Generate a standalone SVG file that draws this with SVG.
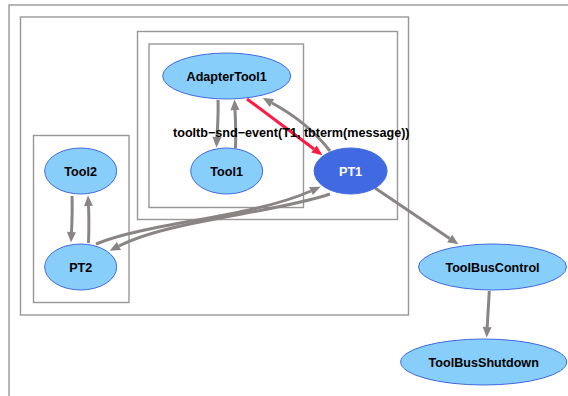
<svg xmlns="http://www.w3.org/2000/svg" width="568" height="396" viewBox="0 0 568 396">
<style>
.cl{fill:none;stroke:#9a9696;stroke-width:1.4}
.n{fill:#87cefa;stroke:#4169e1;stroke-width:1}
.t{font-family:"Liberation Sans",Arial,sans-serif;font-weight:bold;font-size:12.6px;text-anchor:middle;fill:#000}
.e{fill:none;stroke:#8a8585;stroke-width:3}
.r{fill:none;stroke:#ff1a44;stroke-width:3}
</style>
<defs>
<marker id="ag" markerUnits="userSpaceOnUse" markerWidth="12" markerHeight="10" refX="0" refY="4.5" orient="auto" viewBox="0 0 12 10" overflow="visible">
<path d="M0,0 L10.5,4.5 L0,9 z" fill="#8a8585"/>
</marker>
<marker id="ar" markerUnits="userSpaceOnUse" markerWidth="12" markerHeight="10" refX="0" refY="4.5" orient="auto" viewBox="0 0 12 10" overflow="visible">
<path d="M0,0 L10.5,4.5 L0,9 z" fill="#ff1a44"/>
</marker>
</defs>
<rect width="568" height="396" fill="#fff"/>
<g id="clusters">
<rect class="cl" x="9" y="5" width="600" height="420" stroke-width="1.6"/>
<rect class="cl" x="20.5" y="17" width="388" height="298"/>
<rect class="cl" x="137.5" y="31.5" width="260" height="188"/>
<rect class="cl" x="149" y="44" width="154.5" height="163.5"/>
<rect class="cl" x="33.5" y="135.5" width="95.5" height="167"/>
</g>
<g id="connectors">
<path class="e" d="M218,100 C218.5,115 217.5,128 217,137" marker-end="url(#ag)"/>
<path class="e" d="M235.5,148 C236,135 235.5,120 235,110" marker-end="url(#ag)"/>
<path class="r" d="M247,99 L314,149" marker-end="url(#ar)"/>
<path class="e" d="M330,151 C316,133 296,116 272,103" marker-end="url(#ag)"/>
<path class="e" d="M72,196 C72.5,210 72,222 71.5,232" marker-end="url(#ag)"/>
<path class="e" d="M88.5,243 C89,230 89,216 88.5,206" marker-end="url(#ag)"/>
<path class="e" d="M96,244 C150,222 250,218 311,191" marker-end="url(#ag)"/>
<path class="e" d="M330,194 C270,214 170,220 119,246" marker-end="url(#ag)"/>
<path class="e" d="M375,188 L449.7,238.4" marker-end="url(#ag)"/>
<path class="e" d="M489.3,291 L487.2,327" marker-end="url(#ag)"/>
</g>
<g id="AdapterTool1"><ellipse class="n" cx="226.7" cy="76" rx="64" ry="23"/><text class="t" x="226.7" y="80.5">AdapterTool1</text></g>
<g id="Tool1"><ellipse class="n" cx="226.7" cy="171" rx="36" ry="23"/><text class="t" x="226.7" y="175.5">Tool1</text></g>
<g id="PT1"><ellipse class="n" cx="350.6" cy="171" rx="36.5" ry="23" style="fill:#4169e1"/><text class="t" x="350.6" y="175.5" style="fill:#fff">PT1</text></g>
<g id="Tool2"><ellipse class="n" cx="80.7" cy="171" rx="36" ry="23"/><text class="t" x="80.7" y="175.5">Tool2</text></g>
<g id="PT2"><ellipse class="n" cx="80.7" cy="267" rx="36" ry="23"/><text class="t" x="80.7" y="271.5">PT2</text></g>
<g id="ToolBusControl"><ellipse class="n" cx="492.5" cy="267" rx="74" ry="23"/><text class="t" x="492.5" y="271.5">ToolBusControl</text></g>
<g id="ToolBusShutdown"><ellipse class="n" cx="483.7" cy="362" rx="83" ry="23"/><text class="t" x="483.7" y="366.5">ToolBusShutdown</text></g>
<text class="t" x="291.3" y="136.5">tooltb−snd−event(T1, tbterm(message))</text>
</svg>
